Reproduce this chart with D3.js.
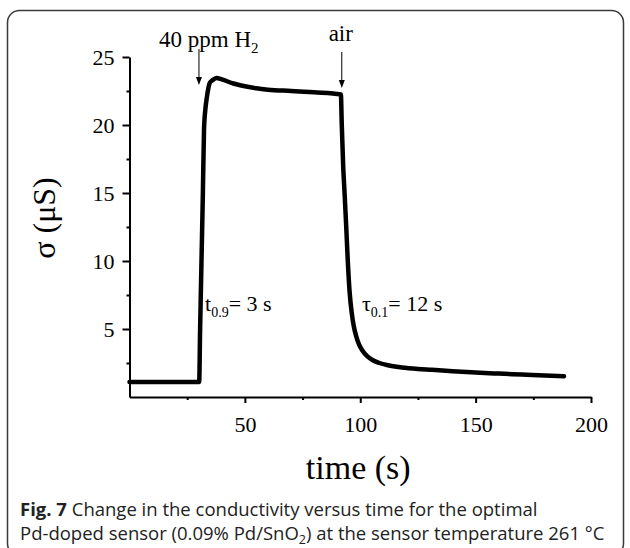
<!DOCTYPE html>
<html>
<head>
<meta charset="utf-8">
<script src="https://cdn.jsdelivr.net/npm/d3@7"></script>
<style>
  html, body { margin: 0; padding: 0; background: #fff; }
  svg { display: block; }
</style>
</head>
<body>
<svg id="chart" width="630" height="548"></svg>
<script>
// ---- data ----
const time  = [0, 30.2, 30.6, 31.2, 31.8, 32.3, 32.9, 33.5, 34.8, 36, 37.7, 40, 45, 50, 55, 60, 70, 80, 91.6,
               92.0, 92.6, 93.2, 93.9, 94.6, 95.4, 96.3, 97.2, 98.2, 99.5, 101, 103, 105.3, 108.3, 112, 118, 125,
               131, 140, 150, 160, 170, 180, 188.3];
const sigma = [1.1, 1.1, 5, 10, 15, 19.7, 21.2, 22.0, 23.1, 23.3, 23.45, 23.35, 23.05, 22.85, 22.7, 22.6, 22.5, 22.4, 22.25,
               20.0, 17.0, 15.0, 12.6, 10.0, 7.7, 6.2, 5.2, 4.5, 3.85, 3.4, 3.0, 2.72, 2.5, 2.33, 2.17, 2.06,
               2.0, 1.9, 1.8, 1.72, 1.65, 1.58, 1.52];
const xMajorTicks = [50, 100, 150, 200];
const xMinorTicks = [25, 75, 125, 175];
const yMajorTicks = [5, 10, 15, 20, 25];
const yMinorTicks = [2.5, 7.5, 12.5, 17.5, 22.5];
const xTitle = "time (s)";
const yTitle = "σ (μS)";
const gasOnTime = 30.1, gasOffTime = 92.0;
const captionBold = "Fig. 7";
const captionLine1 = " Change in the conductivity versus time for the optimal";
const captionLine2a = "Pd-doped sensor (0.09% Pd/SnO";
const captionLine2b = "2";
const captionLine2c = ") at the sensor temperature 261 °C";

const svg = d3.select("#chart");
const serif = "'Liberation Serif', 'Times New Roman', serif";

// frame
svg.append("rect")
  .attr("x", 7.5).attr("y", 10.5).attr("width", 616).attr("height", 545)
  .attr("rx", 12).attr("ry", 12)
  .attr("fill", "none").attr("stroke", "#3a3a3a").attr("stroke-width", 1.5);

const x = d3.scaleLinear().domain([0, 200]).range([129.5, 591]);
const y = d3.scaleLinear().domain([0, 25]).range([397, 57]);

function styleAxis(g, sw) {
  g.selectAll("path.domain").attr("stroke", "#000").attr("stroke-width", sw);
  g.selectAll(".tick line").attr("stroke", "#000").attr("stroke-width", sw);
  g.selectAll(".tick text").attr("font-family", serif).attr("font-size", 22).attr("fill", "#000");
}

// x axis
const gx = svg.append("g").attr("transform", `translate(0,${y(0)})`)
  .call(d3.axisBottom(x).tickValues(xMajorTicks).tickSize(6).tickSizeOuter(0).tickPadding(13).tickFormat(d3.format("d")));
styleAxis(gx, 2);
const gxm = svg.append("g").attr("transform", `translate(0,${y(0)})`)
  .call(d3.axisBottom(x).tickValues(xMinorTicks).tickSize(3).tickSizeOuter(0).tickFormat(""));
gxm.select("path.domain").remove();
styleAxis(gxm, 2);

// y axis
const gy = svg.append("g").attr("transform", `translate(${x(0)},0)`)
  .call(d3.axisLeft(y).tickValues(yMajorTicks).tickSize(7).tickSizeOuter(0).tickPadding(8).tickFormat(d3.format("d")));
styleAxis(gy, 2);
const gym = svg.append("g").attr("transform", `translate(${x(0)},0)`)
  .call(d3.axisLeft(y).tickValues(yMinorTicks).tickSize(3).tickSizeOuter(0).tickFormat(""));
gym.select("path.domain").remove();
styleAxis(gym, 2);

// titles
svg.append("text").attr("x", (x.range()[0] + x.range()[1]) / 2 - 2).attr("y", 479)
  .attr("text-anchor", "middle").attr("font-family", serif).attr("font-size", 34).text(xTitle);
svg.append("text").attr("transform", `translate(55,${(y(0)+y(25))/2 - 9}) rotate(-90)`)
  .attr("text-anchor", "middle").attr("font-family", serif).attr("font-size", 32).text(yTitle);

// curve
const data = time.map((t, i) => ({ t, v: sigma[i] }));
svg.append("path").datum(data)
  .attr("fill", "none").attr("stroke", "#000").attr("stroke-width", 4.5)
  .attr("stroke-linejoin", "round").attr("stroke-linecap", "round")
  .attr("d", d3.line().x(d => x(d.t)).y(d => y(d.v)).curve(d3.curveMonotoneX));

// arrows
function arrow(xp, y1, y2) {
  svg.append("line").attr("x1", xp).attr("x2", xp).attr("y1", y1).attr("y2", y2 - 6)
    .attr("stroke", "#000").attr("stroke-width", 1);
  svg.append("path").attr("d", `M${xp - 3},${y2 - 8} L${xp + 3},${y2 - 8} L${xp},${y2} Z`).attr("fill", "#000");
}
arrow(x(gasOnTime), 49, 85);
arrow(x(gasOffTime), 52, 88);

// annotations
const t1 = svg.append("text").attr("x", 159).attr("y", 47).attr("font-family", serif).attr("font-size", 23);
t1.append("tspan").text("40 ppm H");
t1.append("tspan").attr("font-size", 15).attr("dy", 6).text("2");

svg.append("text").attr("x", x(gasOffTime) - 1).attr("y", 41).attr("text-anchor", "middle")
  .attr("font-family", serif).attr("font-size", 23).text("air");

const t2 = svg.append("text").attr("x", 205).attr("y", 311).attr("font-family", serif).attr("font-size", 22);
t2.append("tspan").text("t");
t2.append("tspan").attr("font-size", 14).attr("dy", 6).text("0.9");
t2.append("tspan").attr("dy", -6).text("= 3 s");

const t3 = svg.append("text").attr("x", 362).attr("y", 311).attr("font-family", serif).attr("font-size", 22);
t3.append("tspan").text("τ");
t3.append("tspan").attr("font-size", 14).attr("dy", 6).text("0.1");
t3.append("tspan").attr("dy", -6).text("= 12 s");

// caption
const sans = "'Open Sans', 'Noto Sans', sans-serif";
const c1 = svg.append("text").attr("x", 20).attr("y", 516).attr("font-family", sans).attr("font-size", 18.5).attr("fill", "#222");
c1.append("tspan").attr("font-weight", "bold").text(captionBold);
c1.append("tspan").text(captionLine1);
const c2 = svg.append("text").attr("x", 20).attr("y", 540).attr("font-family", sans).attr("font-size", 18.5).attr("fill", "#222");
c2.append("tspan").text(captionLine2a);
c2.append("tspan").attr("font-size", 12.5).attr("dy", 4).text(captionLine2b);
c2.append("tspan").attr("dy", -4).text(captionLine2c);
</script>
</body>
</html>
